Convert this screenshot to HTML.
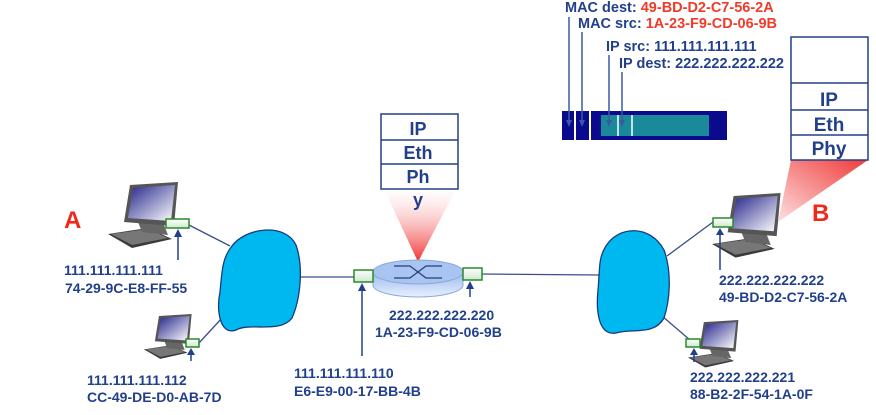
<!DOCTYPE html>
<html><head><meta charset="utf-8"><style>
html,body{margin:0;padding:0;background:#fff}
svg text{font-family:"Liberation Sans",Arial,sans-serif;font-weight:bold}
.t{fill:#22408a;font-size:14px}
</style></head><body>
<svg width="876" height="410" viewBox="0 0 876 410" xmlns="http://www.w3.org/2000/svg">
<defs>
<linearGradient id="scr" x1="0" y1="0" x2="1" y2="1"><stop offset="0" stop-color="#22228a"/><stop offset="1" stop-color="#ffffff"/></linearGradient>
<linearGradient id="nic" x1="0" y1="0" x2="0" y2="1"><stop offset="0" stop-color="#fff"/><stop offset="1" stop-color="#cfe8cf"/></linearGradient>
<linearGradient id="coneR" x1="0" y1="0" x2="0" y2="1"><stop offset="0" stop-color="#fff" stop-opacity="0.3"/><stop offset="1" stop-color="#f03030"/></linearGradient>
<linearGradient id="coneB" x1="1" y1="0" x2="0" y2="1"><stop offset="0" stop-color="#f03a3a"/><stop offset="1" stop-color="#fde0e0"/></linearGradient>
<linearGradient id="rt" x1="0" y1="0" x2="0" y2="1"><stop offset="0" stop-color="#9ab8ee"/><stop offset="1" stop-color="#e8f0ff"/></linearGradient>
<g id="pc">
<polygon points="0,52 40,46 64,57 24,66" fill="#3a3a3a"/>
<polygon points="3,52 40,47 60,56 24,63" fill="#777"/>
<polygon points="30,40 56,43 60,53 34,50" fill="#666"/>
<polygon points="22,3 70,0 66,44 16,40" fill="#555"/>
<polygon points="25,6 67,3 63,39 20,36" fill="url(#scr)"/>
</g>
</defs>

<!-- top frame labels -->
<text x="565" y="12" font-size="14.5" fill="#22408a">MAC dest: <tspan fill="#f03a2a">49-BD-D2-C7-56-2A</tspan></text>
<text x="578" y="28" font-size="14.5" fill="#22408a">MAC src: <tspan fill="#f03a2a">1A-23-F9-CD-06-9B</tspan></text>
<text x="606" y="51" font-size="14.5" fill="#22408a">IP src: 111.111.111.111</text>
<text x="619" y="68" font-size="14.5" fill="#22408a">IP dest: 222.222.222.222</text>
<rect x="562" y="111" width="12" height="29" fill="#0a0a8c"/>
<rect x="576" y="111" width="13" height="29" fill="#0a0a8c"/>
<rect x="591" y="111" width="136" height="29" fill="#0a0a8c"/>
<rect x="601" y="115" width="108" height="21" fill="#1a8a9a"/>
<line x1="618" y1="115" x2="618" y2="136" stroke="#fff" stroke-width="1.5"/>
<line x1="632" y1="115" x2="632" y2="136" stroke="#fff" stroke-width="1.5"/>
<g stroke="#3a5aa0" stroke-width="1.5">
<line x1="569" y1="17" x2="569" y2="122"/>
<line x1="582" y1="32" x2="582" y2="122"/>
<line x1="609" y1="55" x2="609" y2="122"/>
<line x1="622" y1="72" x2="622" y2="122"/>
</g>
<g fill="#3a5aa0">
<polygon points="566,120 572,120 569,127"/>
<polygon points="579,120 585,120 582,127"/>
<polygon points="606,120 612,120 609,127"/>
<polygon points="619,120 625,120 622,127"/>
</g>

<!-- B stack -->
<polygon points="791,160 868,160 778,222" fill="url(#coneB)"/>
<rect x="791" y="37" width="77" height="123" fill="#fff" stroke="#22408a" stroke-width="1.5"/>
<g stroke="#22408a" stroke-width="1.5"><line x1="791" y1="83" x2="868" y2="83"/><line x1="791" y1="110" x2="868" y2="110"/><line x1="791" y1="135" x2="868" y2="135"/></g>
<text x="829" y="106" text-anchor="middle" font-size="19" fill="#22408a">IP</text>
<text x="829" y="131" text-anchor="middle" font-size="19" fill="#22408a">Eth</text>
<text x="829" y="155" text-anchor="middle" font-size="19" fill="#22408a">Phy</text>
<text x="812" y="221" font-size="24" fill="#f02a1a">B</text>

<!-- router stack -->
<polygon points="384,189 456,189 418,262" fill="url(#coneR)"/>
<rect x="381" y="114" width="77" height="75" fill="#fff" stroke="#22408a" stroke-width="1.5"/>
<g stroke="#22408a" stroke-width="1.5"><line x1="381" y1="140" x2="458" y2="140"/><line x1="381" y1="164" x2="458" y2="164"/></g>
<text x="418" y="135" text-anchor="middle" font-size="18" fill="#22408a">IP</text>
<text x="418" y="159" text-anchor="middle" font-size="18" fill="#22408a">Eth</text>
<text x="418" y="183" text-anchor="middle" font-size="18" fill="#22408a">Ph</text>
<text x="418" y="206" text-anchor="middle" font-size="18" fill="#22408a">y</text>

<!-- links -->
<g stroke="#3a4f8a" stroke-width="1.3">
<line x1="189" y1="225" x2="230" y2="246"/>
<line x1="199" y1="343" x2="222" y2="318"/>
<line x1="300" y1="277" x2="356" y2="277"/>
<line x1="482" y1="274" x2="600" y2="275"/>
<line x1="667" y1="256" x2="713" y2="222"/>
<line x1="662" y1="316" x2="690" y2="340"/>
</g>

<!-- clouds -->
<path d="M232,246 C245,228 285,222 296,245 C304,268 300,300 292,318 C280,334 250,322 236,330 C220,336 216,310 220,292 C222,272 222,258 232,246 Z" fill="#00b8f0" stroke="#1a3a7a" stroke-width="1.3"/>
<path d="M606,246 C618,226 650,224 664,250 C672,272 670,300 664,318 C654,336 632,328 616,333 C598,336 596,310 598,290 C600,270 598,258 606,246 Z" fill="#00b8f0" stroke="#1a3a7a" stroke-width="1.3"/>

<!-- router -->
<path d="M373,272 L373,285 A45,12 0 0 0 463,285 L463,272 Z" fill="url(#rt)" stroke="#8aa8d8"/>
<ellipse cx="418" cy="272" rx="45" ry="12" fill="#a8c4f0" stroke="#8aa8d8"/>
<g stroke="#2a3a7a" stroke-width="1.2" fill="none">
<path d="M394,266 L410,266 L426,278 L442,278"/><path d="M394,278 L410,278 L426,266 L442,266"/>
</g>

<!-- computers -->
<use href="#pc" transform="translate(108,182) scale(1)"/>
<use href="#pc" transform="translate(144,314) scale(0.68)"/>
<use href="#pc" transform="translate(712,193) scale(0.98)"/>
<use href="#pc" transform="translate(688,320) scale(0.72)"/>

<!-- NICs -->
<g fill="url(#nic)" stroke="#2a8a2a" stroke-width="1.5">
<rect x="166" y="219" width="23" height="9"/>
<rect x="186" y="339" width="13" height="8"/>
<rect x="354" y="270" width="19" height="12"/>
<rect x="463" y="268" width="19" height="12"/>
<rect x="713" y="218" width="20" height="9"/>
<rect x="686" y="339" width="14" height="8"/>
</g>

<!-- arrows -->
<g stroke="#22408a" stroke-width="1.5">
<line x1="178" y1="260" x2="178" y2="236"/>
<line x1="191" y1="361" x2="191" y2="354"/>
<line x1="362" y1="356" x2="362" y2="290"/>
<line x1="470" y1="297" x2="470" y2="288"/>
<line x1="720" y1="270" x2="720" y2="234"/>
<line x1="694" y1="362" x2="694" y2="354"/>
</g>
<g fill="#22408a">
<polygon points="174,237 182,237 178,229"/>
<polygon points="187,355 195,355 191,348"/>
<polygon points="358,291 366,291 362,283"/>
<polygon points="466,289 474,289 470,281"/>
<polygon points="716,235 724,235 720,228"/>
<polygon points="690,355 698,355 694,348"/>
</g>

<text x="64" y="228" font-size="24" fill="#f02a1a">A</text>

<text class="t" x="64" y="275">111.111.111.111</text>
<text class="t" x="65" y="293">74-29-9C-E8-FF-55</text>
<text class="t" x="87" y="385">111.111.111.112</text>
<text class="t" x="87" y="402">CC-49-DE-D0-AB-7D</text>
<text class="t" x="294" y="378">111.111.111.110</text>
<text class="t" x="294" y="396">E6-E9-00-17-BB-4B</text>
<text class="t" x="389" y="320">222.222.222.220</text>
<text class="t" x="375" y="337">1A-23-F9-CD-06-9B</text>
<text class="t" x="719" y="285">222.222.222.222</text>
<text class="t" x="719" y="302">49-BD-D2-C7-56-2A</text>
<text class="t" x="690" y="382">222.222.222.221</text>
<text class="t" x="690" y="399">88-B2-2F-54-1A-0F</text>
</svg>
</body></html>
